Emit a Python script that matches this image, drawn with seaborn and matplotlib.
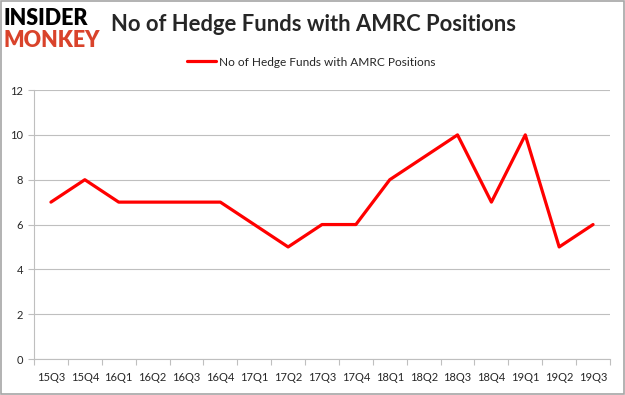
import pandas as pd
import seaborn as sns
import matplotlib.pyplot as plt
from matplotlib.patches import Rectangle

# Data
quarters = ['15Q3', '15Q4', '16Q1', '16Q2', '16Q3', '16Q4', '17Q1', '17Q2', '17Q3',
            '17Q4', '18Q1', '18Q2', '18Q3', '18Q4', '19Q1', '19Q2', '19Q3']
funds = [7, 8, 7, 7, 7, 7, 6, 5, 6, 6, 8, 9, 10, 7, 10, 5, 6]
series_name = 'No of Hedge Funds with AMRC Positions'

df = pd.DataFrame({'quarter': quarters, 'funds': funds})
df['pos'] = range(len(df))

sns.set_style('white')
plt.rcParams['font.family'] = ['Lato', 'DejaVu Sans']

fig = plt.figure(figsize=(6.25, 3.95), dpi=100)
ax = fig.add_axes([0.0544, 0.0911, 0.9216, 0.6809])

sns.lineplot(data=df, x='pos', y='funds', color='#ff0000', linewidth=2.3,
             ax=ax, label=series_name, legend=False)

ax.set_xlim(-0.5, len(quarters) - 0.5)
ax.set_ylim(0, 12)
ax.set_yticks(range(0, 13, 2))
ax.yaxis.grid(True, color='#bfbfbf', linewidth=0.8)
ax.set_axisbelow(True)

# Excel-style: labels centred in categories, tick marks on boundaries
ax.set_xticks(df['pos'])
ax.set_xticklabels(quarters)
ax.set_xticks([i - 0.5 for i in range(len(quarters) + 1)], minor=True)
ax.tick_params(axis='x', which='major', length=0, pad=9, labelsize=8)
ax.tick_params(axis='x', which='minor', length=4, color='#bfbfbf', width=0.8,
               direction='out', bottom=True)
ax.tick_params(axis='y', length=4, color='#bfbfbf', width=0.8, labelsize=8,
               left=True, pad=4)
ax.set_xlabel('')
ax.set_ylabel('')

for side in ['top', 'right']:
    ax.spines[side].set_visible(False)
for side in ['left', 'bottom']:
    ax.spines[side].set_color('#bfbfbf')
    ax.spines[side].set_linewidth(0.8)

# Title and legend
fig.text(0.501, 0.937, series_name, ha='center', va='center',
         fontsize=15.8, fontweight='bold')
fig.legend(handles=ax.get_lines()[:1], labels=[series_name], loc='center',
           bbox_to_anchor=(0.498, 0.843), frameon=False, fontsize=8.6,
           handlelength=2.4, handletextpad=0.3)

# Logo
fig.text(0.006, 0.952, 'INSIDER', fontsize=15.5, fontweight='heavy',
         color='black', va='center', ha='left')
fig.text(0.006, 0.897, 'MONKEY', fontsize=15.5, fontweight='heavy',
         color='#d9432b', va='center', ha='left')

# Outer border
fig.patches.append(Rectangle((0.001, 0.002), 0.997, 0.995, transform=fig.transFigure,
                             fill=False, edgecolor='#a6a6a6', linewidth=1.2))

fig.savefig('out.png', dpi=100)
